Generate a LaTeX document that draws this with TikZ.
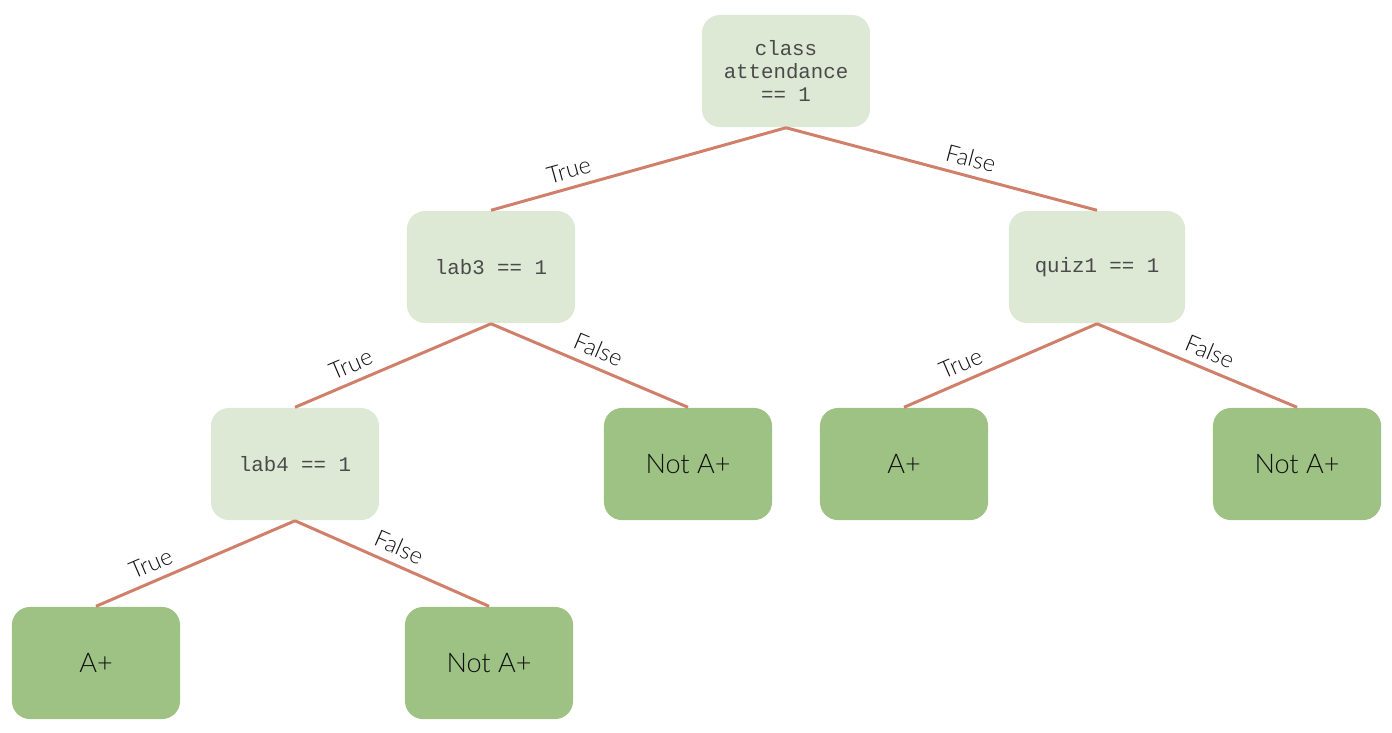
\documentclass[tikz,border=0pt]{standalone}
\usepackage{fontspec}
\setmainfont{Lato}[UprightFont=* Light]
\setmonofont{Liberation Mono}
\definecolor{lightfill}{HTML}{DDE8D5}
\definecolor{darkfill}{HTML}{9DC284}
\definecolor{edgecol}{HTML}{D0806A}
\definecolor{txt}{HTML}{111111}
\definecolor{codetxt}{HTML}{4A4A4A}
\tikzset{
  decision/.style={rounded corners=0.18cm, fill=lightfill, draw=none, minimum width=1.68cm, minimum height=1.12cm, inner sep=0pt, align=center, font=\ttfamily\fontsize{5.9pt}{6.5pt}\selectfont, text=codetxt},
  leaf/.style={rounded corners=0.18cm, fill=darkfill, draw=none, minimum width=1.68cm, minimum height=1.12cm, inner sep=0pt, align=center, font=\fontsize{7.7pt}{9pt}\selectfont, text=txt},
  edge/.style={draw=edgecol, line width=0.85pt},
  lbl/.style={font=\fontsize{6.7pt}{7.5pt}\selectfont, text=txt, sloped, above, inner sep=1pt, yshift=1.2pt}
}
\begin{document}
\begin{tikzpicture}[x=0.01cm,y=-0.01cm]
\useasboundingbox (0,0) rectangle (1392,732);
\node[decision] (root) at (786,71) {class\\attendance\\== 1};
\node[decision] (lab3) at (491,267) {lab3 == 1};
\node[decision, minimum width=1.76cm] (quiz1) at (1097,267) {quiz1 == 1};
\node[decision] (lab4) at (295,464) {lab4 == 1};
\node[leaf] (notA1) at (688,464) {Not A+};
\node[leaf] (A2) at (904,464) {A+};
\node[leaf] (notA2) at (1297,464) {Not A+};
\node[leaf] (A1) at (96,663) {A+};
\node[leaf] (notA3) at (489,663) {Not A+};
\draw[edge] (root.south) -- node[lbl, pos=0.72] {True} (lab3.north);
\draw[edge] (root.south) -- node[lbl, pos=0.58] {False} (quiz1.north);
\draw[edge] (lab3.south) -- node[lbl, pos=0.68] {True} (lab4.north);
\draw[edge] (lab3.south) -- node[lbl, pos=0.51] {False} (notA1.north);
\draw[edge] (quiz1.south) -- node[lbl, pos=0.67] {True} (A2.north);
\draw[edge] (quiz1.south) -- node[lbl, pos=0.53] {False} (notA2.north);
\draw[edge] (lab4.south) -- node[lbl, pos=0.69] {True} (A1.north);
\draw[edge] (lab4.south) -- node[lbl, pos=0.5] {False} (notA3.north);
\end{tikzpicture}
\end{document}
